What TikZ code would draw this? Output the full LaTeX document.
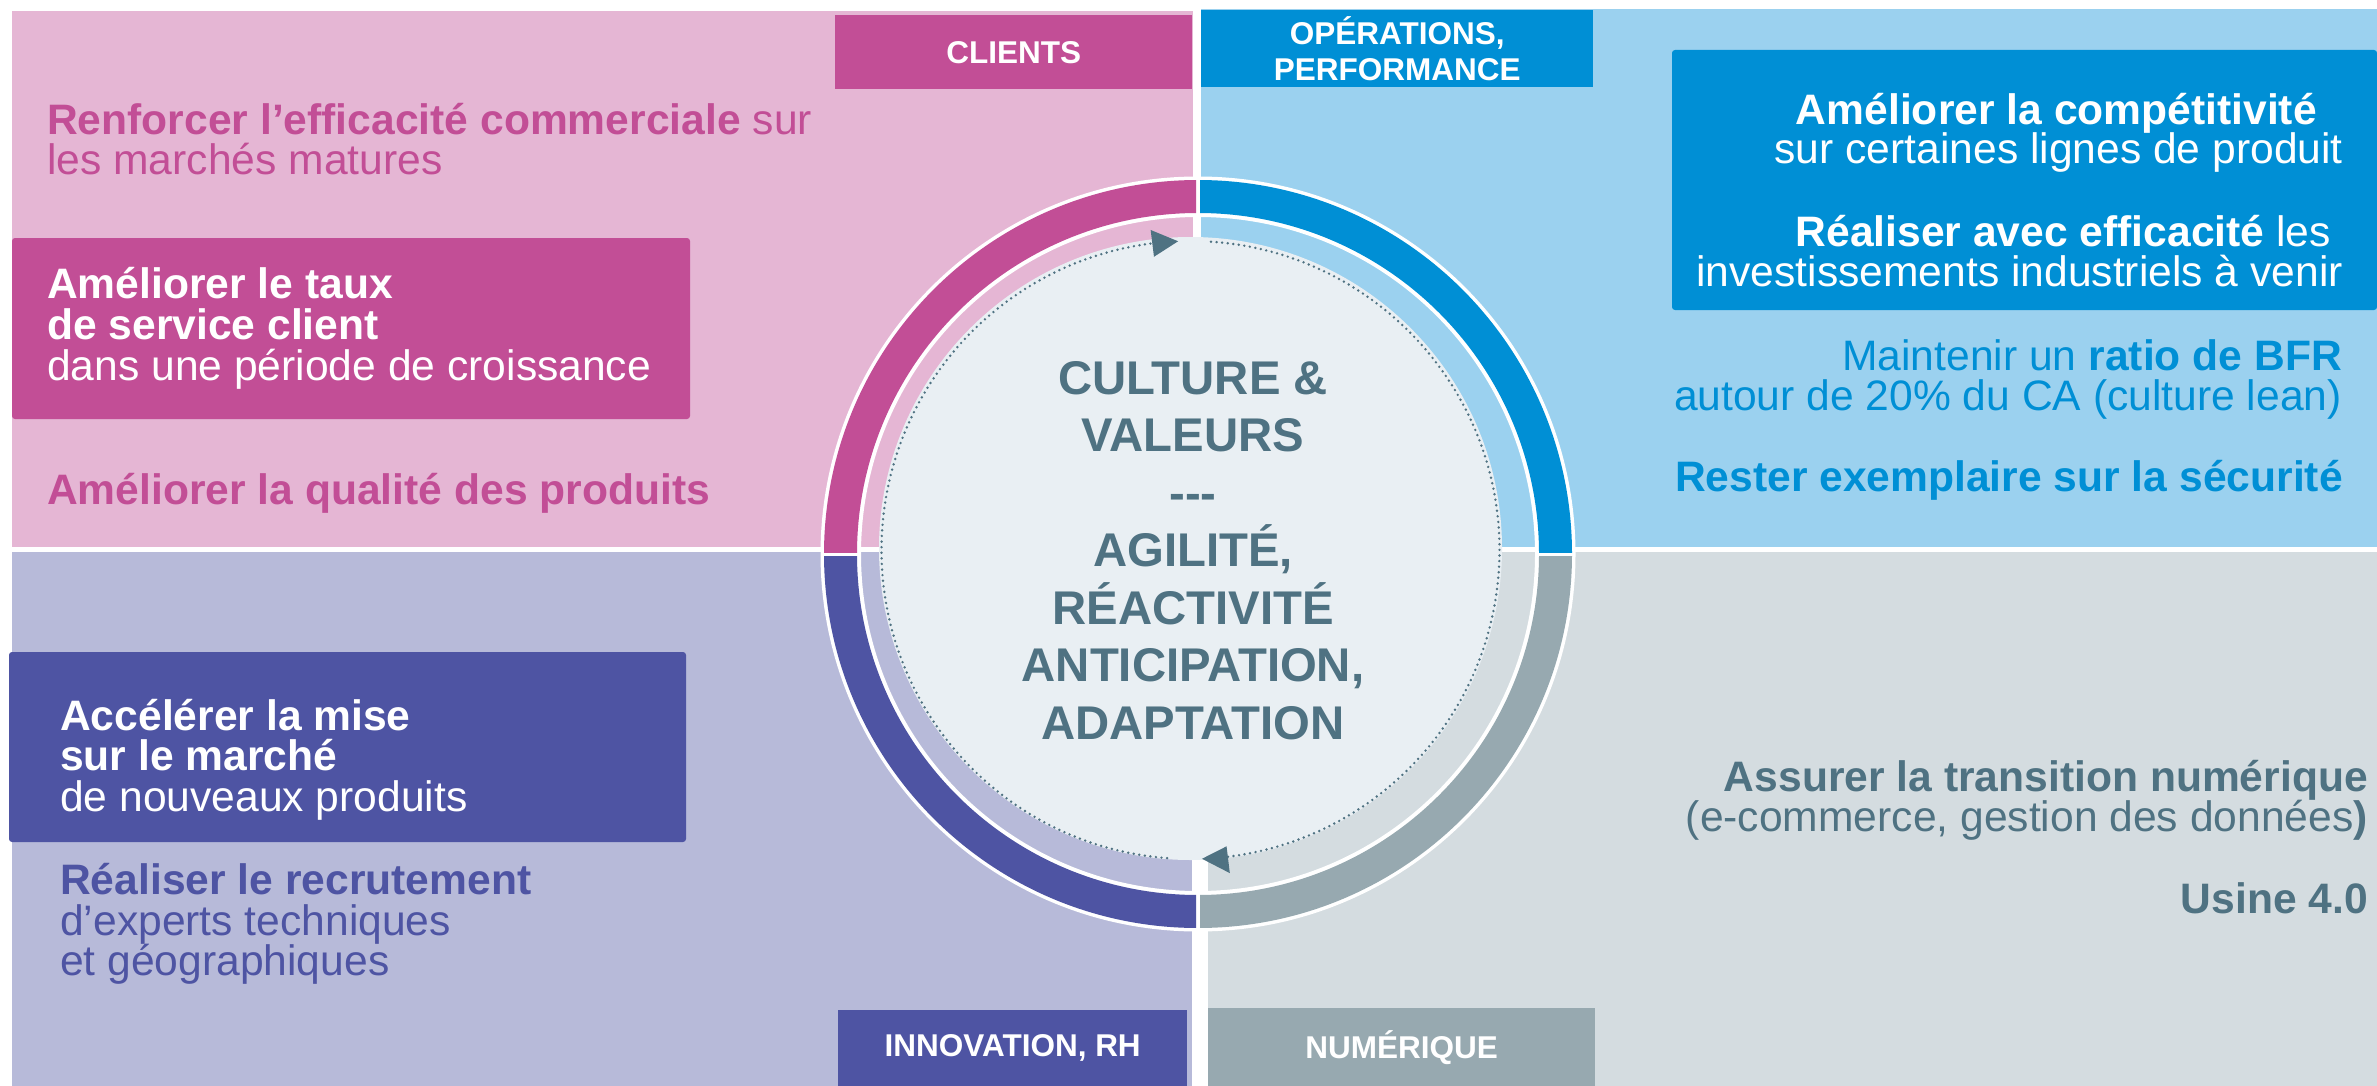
\documentclass[tikz,border=0pt]{standalone}
\usepackage{fontspec}
\setmainfont{Liberation Sans}
\usetikzlibrary{calc}
\definecolor{pinkbg}{HTML}{E5B6D4}
\definecolor{magen}{HTML}{C24E96}
\definecolor{bluebg}{HTML}{9BD1EF}
\definecolor{opblue}{HTML}{008FD5}
\definecolor{lavbg}{HTML}{B7BAD9}
\definecolor{indig}{HTML}{4E54A3}
\definecolor{greybg}{HTML}{D4DCE0}
\definecolor{greymid}{HTML}{97A9B0}
\definecolor{ctrfill}{HTML}{E9EFF3}
\definecolor{slate}{HTML}{4F7282}
\begin{document}
\begin{tikzpicture}[x=1pt,y=-1pt,
  txt/.style={inner sep=0pt, font=\fontsize{42.6}{40.5}\selectfont},
  lft/.style={txt, anchor=base west},
  rgt/.style={txt, anchor=base east},
  hdr/.style={inner sep=0pt, anchor=north west, text=white, align=center,
              font=\fontsize{31.5}{36}\selectfont\bfseries},
  ctr/.style={inner sep=0pt, anchor=base, text=slate,
              font=\fontsize{47.3}{57.5}\selectfont\bfseries},
  dots/.style={slate, line width=2.7pt, dash pattern=on 0pt off 5.6pt, line cap=round},
  goalbox/.style={rounded corners=3pt}
]
\useasboundingbox (0,0) rectangle (2377,1086);
\fill[white] (0,0) rectangle (2377,1086);

% quadrants
\fill[pinkbg] (12,11) rectangle (1193,547);
\fill[bluebg] (1201,9) rectangle (2377,547);
\fill[lavbg] (12,552) rectangle (1192,1086);
\fill[greybg] (1208,552) rectangle (2377,1086);

% ring
\coordinate (rc) at (1198,554);
\fill[white, even odd rule] (rc) circle[radius=377.5] (rc) circle[radius=337];
\begin{scope}
  \clip (0,0) rectangle (1196,552);
  \fill[magen, even odd rule] (rc) circle[radius=374] (rc) circle[radius=341];
\end{scope}
\begin{scope}
  \clip (1200,0) rectangle (2377,552);
  \fill[opblue, even odd rule] (rc) circle[radius=374] (rc) circle[radius=341];
\end{scope}
\begin{scope}
  \clip (0,556) rectangle (1196,1086);
  \fill[indig, even odd rule] (rc) circle[radius=374] (rc) circle[radius=341];
\end{scope}
\begin{scope}
  \clip (1200,556) rectangle (2377,1086);
  \fill[greymid, even odd rule] (rc) circle[radius=374] (rc) circle[radius=341];
\end{scope}

% central disc
\coordinate (cc) at (1190.5,548.5);
\fill[ctrfill] (cc) circle[radius=311.5];

% dotted cycle arcs with arrow heads
\coordinate (dc) at (1190.5,550);
\draw[dots] ($(dc)+(94.35:309)$) arc[start angle=94.35, end angle=263, radius=309];
\fill[slate] ($(dc)+(262.9:295.5)$) -- ($(dc)+(262.9:322.5)$) -- ($(dc)+(267.7:309)$) -- cycle;
\draw[dots] ($(dc)+(-86.2:309)$) arc[start angle=-86.2, end angle=83.1, radius=309];
\fill[slate] ($(dc)+(83.06:298.5)$) -- ($(dc)+(83.06:325.5)$) -- ($(dc)+(87.87:309)$) -- cycle;

% centre text
\node[ctr] (c1) at (1193,394) {CULTURE \&};
\node[ctr] (c2) at (1193,451.5) {VALEURS};
\node[ctr] (c3) at (1193,509) {\mbox{-}\mbox{-}\mbox{-}};
\node[ctr] (c4) at (1193,566.5) {AGILITÉ,};
\node[ctr] (c5) at (1193,624) {RÉACTIVITÉ};
\node[ctr] (c6) at (1193,681.5) {ANTICIPATION,};
\node[ctr] (c7) at (1193,739) {ADAPTATION};

% goal boxes
\fill[magen, goalbox] (12,238) rectangle (690,419);
\fill[opblue, goalbox] (1672,50) rectangle (2377,310);
\fill[indig, goalbox] (9,652) rectangle (686,842);

% top-left texts
\node[lft, text=magen] (tl1) at (47,135) {\textbf{Renforcer l’efficacité commerciale} sur};
\node[lft, text=magen] (tl2) at (47,175) {les marchés matures};
\node[lft, text=white] (tl3) at (47,298) {\textbf{Améliorer le taux}};
\node[lft, text=white] (tl4) at (47,339) {\textbf{de service client}};
\node[lft, text=white] (tl5) at (47,380) {dans une période de croissance};
\node[lft, text=magen] (tl6) at (47,504) {\textbf{Améliorer la qualité des produits}};

% top-right texts
\node[rgt, text=white] (tr1) at (2317,125) {\textbf{Améliorer la compétitivité}};
\node[rgt, text=white] (tr2) at (2343,164) {sur certaines lignes de produit};
\node[rgt, text=white] (tr3) at (2331,246) {\textbf{Réaliser avec efficacité} les};
\node[rgt, text=white] (tr4) at (2343,286) {investissements industriels à venir};
\node[rgt, text=opblue] (tr5) at (2342,370) {Maintenir un \textbf{ratio de BFR}};
\node[rgt, text=opblue] (tr6) at (2342,410) {autour de 20\% du CA (culture lean)};
\node[rgt, text=opblue] (tr7) at (2343,491) {\textbf{Rester exemplaire sur la sécurité}};

% bottom-left texts
\node[lft, text=white] (bl1) at (60,730) {\textbf{Accélérer la mise}};
\node[lft, text=white] (bl2) at (60,770) {\textbf{sur le marché}};
\node[lft, text=white] (bl3) at (60,811) {de nouveaux produits};
\node[lft, text=indig] (bl4) at (60,894) {\textbf{Réaliser le recrutement}};
\node[lft, text=indig] (bl5) at (60,935) {d’experts techniques};
\node[lft, text=indig] (bl6) at (60,975) {et géographiques};

% bottom-right texts
\node[rgt, text=slate] (br1) at (2368,791) {\textbf{Assurer la transition numérique}};
\node[rgt, text=slate] (br2) at (2368,831) {(e-commerce, gestion des données\textbf{)}};
\node[rgt, text=slate] (br3) at (2368,913) {\textbf{Usine 4.0}};

% headers
\node[hdr, fill=magen, minimum width=357pt, minimum height=74pt] (hcli) at (835,15) {CLIENTS};
\node[hdr, fill=opblue, minimum width=392pt, minimum height=77pt] (hops) at (1201,10) {OPÉRATIONS,\\PERFORMANCE};
\node[hdr, fill=indig, minimum width=349pt, minimum height=76pt] (hinn) at (838,1010) {INNOVATION, RH};
\node[hdr, fill=greymid, minimum width=387pt, minimum height=78pt] (hnum) at (1208,1008) {NUMÉRIQUE};
\end{tikzpicture}
\end{document}
